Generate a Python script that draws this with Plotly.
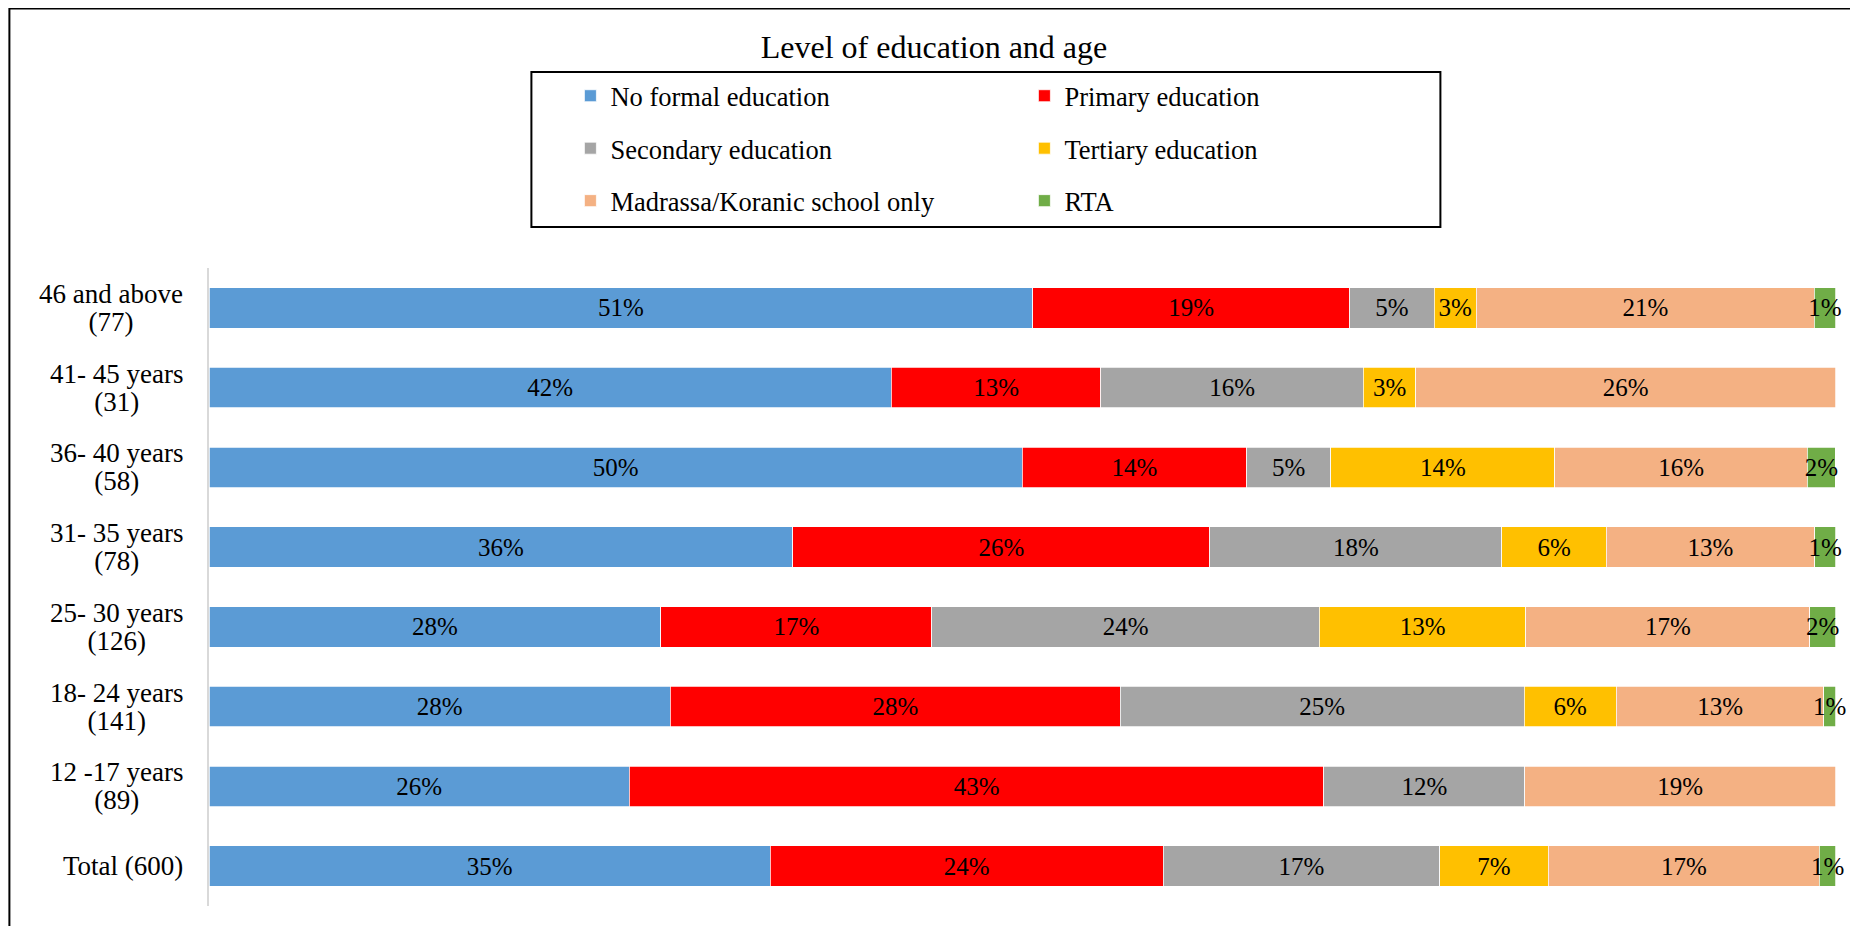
import plotly.graph_objects as go

# Categories (top to bottom)
categories = [
    "46 and above<br>(77)",
    "41- 45 years<br>(31)",
    "36- 40 years<br>(58)",
    "31- 35 years<br>(78)",
    "25- 30 years<br>(126)",
    "18- 24 years<br>(141)",
    "12 -17 years<br>(89)",
    "Total (600)",
]

series_names = [
    "No formal education",
    "Primary education",
    "Secondary education",
    "Tertiary education",
    "Madrassa/Koranic school only",
    "RTA",
]

no_formal = [50.65, 41.94, 50.00, 35.90, 27.78, 28.37, 25.84, 34.50]
primary = [19.48, 12.90, 13.79, 25.64, 16.67, 27.66, 42.70, 24.17]
secondary = [5.19, 16.13, 5.17, 17.95, 23.81, 24.82, 12.36, 17.00]
tertiary = [2.60, 3.23, 13.79, 6.41, 12.70, 5.67, None, 6.67]
madrassa = [20.78, 25.81, 15.52, 12.82, 17.46, 12.77, 19.10, 16.67]
rta = [1.30, None, 1.72, 1.28, 1.59, 0.71, None, 1.00]

colors = ["#5B9BD5", "#FF0000", "#A5A5A5", "#FFC000", "#F4B183", "#70AD47"]
series_values = [no_formal, primary, secondary, tertiary, madrassa, rta]

FONT = "Liberation Serif, Times New Roman, serif"

# The page body adds an 8px offset; positions below are given in screen px
OFF = 8
W, H = 1858, 926
ML = 208.6 - OFF
PLOT_RIGHT = 1835.6 - OFF
MR = W - PLOT_RIGHT
MT = 268 - OFF
PLOT_BOTTOM = 906 - OFF
MB = H - PLOT_BOTTOM
PW = W - ML - MR
PH = H - MT - MB


def sx(px):
    """screen x px -> paper x"""
    return (px - OFF - ML) / PW


def sy(py):
    """screen y px -> paper y"""
    return (PLOT_BOTTOM - (py - OFF)) / PH


fig = go.Figure()
for i, (name, vals, col) in enumerate(zip(series_names, series_values, colors)):
    fig.add_trace(go.Bar(
        name=name,
        y=categories,
        x=vals,
        orientation="h",
        marker=dict(color=col, line=dict(color="white", width=0.75)),
        texttemplate="%{x:.0f}%",
        textposition="inside",
        insidetextanchor="middle",
        constraintext="none",
        textangle=0,
        insidetextfont=dict(family=FONT, size=25, color="black"),
        cliponaxis=False,
        legend="legend" if i % 2 == 0 else "legend2",
        legendgroup=name,
        hoverinfo="skip",
    ))

# Category labels as centered multi-line annotations (tighter line spacing)
annotations = []
for c in categories:
    annotations.append(dict(
        x=0, xref="paper", y=c, yref="y",
        text='<span style="font-size:27px">' + c.replace("<br>", '</span><br><span style="font-size:27px">') + "</span>",
        showarrow=False, xanchor="right", yanchor="middle",
        xshift=-24, align="center",
        font=dict(family=FONT, size=21.5, color="black"),
    ))

legend_common = dict(
    orientation="v",
    xanchor="left", yanchor="top",
    font=dict(family=FONT, size=26.5, color="black"),
    bgcolor="rgba(0,0,0,0)",
    borderwidth=0,
    tracegroupgap=15,
    traceorder="grouped",
)

fig.update_layout(
    width=W, height=H,
    margin=dict(l=ML, r=MR, t=MT, b=MB, autoexpand=False),
    barmode="stack",
    bargap=0.49,
    plot_bgcolor="white",
    paper_bgcolor="white",
    font=dict(family=FONT, size=25, color="black"),
    title=dict(
        text="Level of education and age",
        font=dict(family=FONT, size=32, color="black"),
        x=(934 - OFF) / W, xref="container", xanchor="center",
        y=1 - (47 - OFF) / H, yref="container", yanchor="middle",
    ),
    xaxis=dict(range=[0, 100.03], visible=False, fixedrange=True),
    yaxis=dict(
        autorange="reversed",
        showticklabels=False,
        showgrid=False,
        showline=True,
        linecolor="#D9D9D9",
        linewidth=1.5,
        ticks="",
        zeroline=False,
    ),
    legend=dict(x=sx(570), y=sy(72), **legend_common),
    legend2=dict(x=sx(1024), y=sy(72), **legend_common),
    annotations=annotations,
    shapes=[
        # legend box
        dict(type="rect", xref="paper", yref="paper",
             x0=sx(531), x1=sx(1440), y0=sy(227), y1=sy(72),
             line=dict(color="black", width=2), fillcolor="rgba(0,0,0,0)", layer="below"),
        # outer chart border
        dict(type="rect", xref="paper", yref="paper",
             x0=sx(9), x1=sx(1856), y0=sy(960), y1=sy(8.5),
             line=dict(color="black", width=2), fillcolor="rgba(0,0,0,0)", layer="below"),
    ],
    showlegend=True,
)

fig.write_html("out.html")
